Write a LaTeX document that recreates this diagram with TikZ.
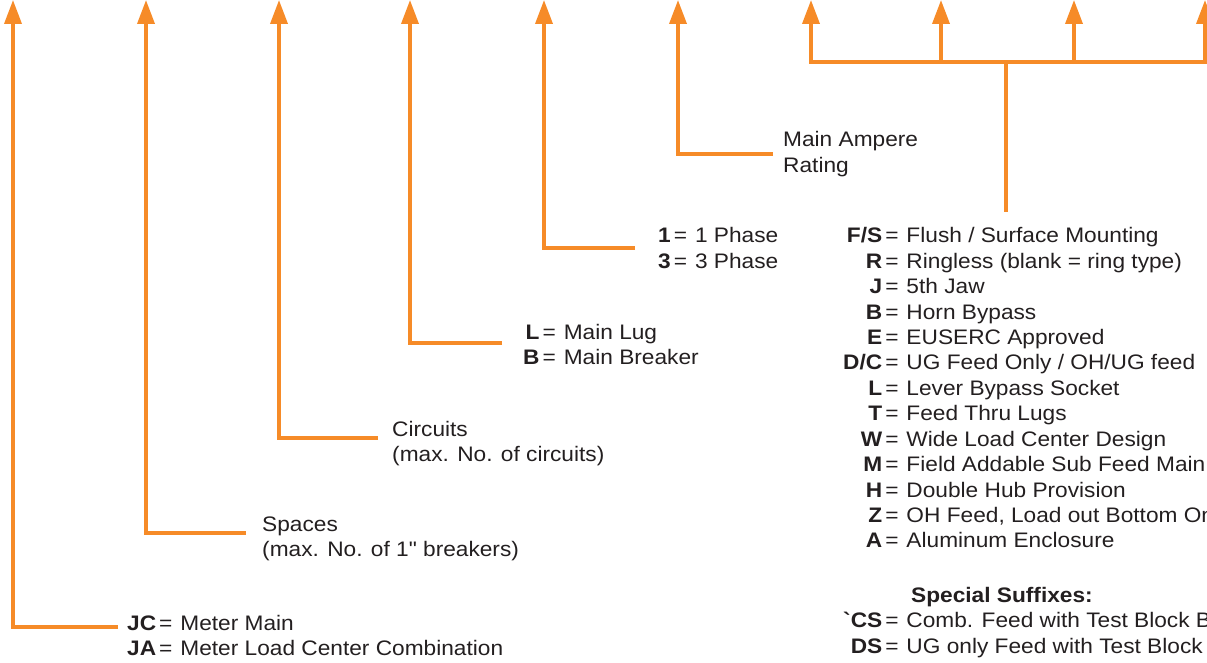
\documentclass[tikz,border=0pt]{standalone}
\usepackage{fontspec}
\setmainfont{Liberation Sans}[FakeStretch=1.08]
\newfontfamily\plainfont{Liberation Sans}[FakeStretch=1.08]
\usetikzlibrary{arrows.meta}
\definecolor{org}{HTML}{F68B28}
\definecolor{ink}{HTML}{231F20}
\newcommand{\eqsep}{\hspace{3pt}=\hspace{8pt}}
\begin{document}
\begin{tikzpicture}[x=1pt,y=-1pt,
  lead/.style={draw=org,line width=3.6pt,line join=miter},
  arr/.style={lead,-{Triangle[length=24pt,width=17pt]}},
  lbl/.style={inner sep=0pt,anchor=base west,text=ink,font=\fontsize{21}{25.4}\selectfont}]
\useasboundingbox (0,0) rectangle (1207,663);
\clip (0,0) rectangle (1207,663);
% arrow tips
\foreach \i/\x in {1/13,2/146,3/279,4/410,5/544,6/678,7/811,8/941,9/1074,10/1205}
  \coordinate (t\i) at (\x,0);
% leader free ends
\coordinate (e1) at (118,627);
\coordinate (e2) at (246,533);
\coordinate (e3) at (378,438);
\coordinate (e4) at (502,343);
\coordinate (e5) at (635,248);
\coordinate (e6) at (773,154);
\foreach \i in {1,...,6} \draw[arr] (e\i) -| (t\i);
% bracket
\coordinate (b1) at (811,62);
\coordinate (b2) at (941,62);
\coordinate (b3) at (1074,62);
\coordinate (b4) at (1205,62);
\coordinate (bs) at (1006,62);
\coordinate (stem) at (1006,212);
\draw[lead,line cap=rect] (b1) -- (b4);
\draw[lead] (stem) -- (bs);
\draw[arr] (b1) -- (t7);
\draw[arr] (b2) -- (t8);
\draw[arr] (b3) -- (t9);
\draw[arr] (b4) -- (t10);
% labels
\node[lbl] (l1) at (127,630) {\begin{tabular}[t]{@{}r@{\eqsep}l@{}}\textbf{JC} & Meter Main\\ \textbf{JA} & Meter Load Center Combination\end{tabular}};
\node[lbl] (l2) at (262,531) {\begin{tabular}[t]{@{}l@{}}Spaces\\ (max. No. of 1{\plainfont"} breakers)\end{tabular}};
\node[lbl] (l3) at (392,436) {\begin{tabular}[t]{@{}l@{}}Circuits\\ (max. No. of circuits)\end{tabular}};
\node[lbl] (l4) at (523,339) {\begin{tabular}[t]{@{}r@{\eqsep}l@{}}\textbf{L} & Main Lug\\ \textbf{B} & Main Breaker\end{tabular}};
\node[lbl] (l5) at (658,243) {\begin{tabular}[t]{@{}r@{\eqsep}l@{}}\textbf{1} & 1 Phase\\ \textbf{3} & 3 Phase\end{tabular}};
\node[lbl] (l6) at (783,147) {\begin{tabular}[t]{@{}l@{}}Main Ampere\\ Rating\end{tabular}};
\node[lbl] (l7) at (843,243) {\begin{tabular}[t]{@{}r@{\eqsep}l@{}}
\textbf{F/S} & Flush / Surface Mounting\\
\textbf{R} & Ringless (blank = ring type)\\
\textbf{J} & 5th Jaw\\
\textbf{B} & Horn Bypass\\
\textbf{E} & EUSERC Approved\\
\textbf{D/C} & UG Feed Only / OH/UG feed\\
\textbf{L} & Lever Bypass Socket\\
\textbf{T} & Feed Thru Lugs\\
\textbf{W} & Wide Load Center Design\\
\textbf{M} & Field Addable Sub Feed Main\\
\textbf{H} & Double Hub Provision\\
\textbf{Z} & OH Feed, Load out Bottom Only\\
\textbf{A} & Aluminum Enclosure\\[4pt]
\multicolumn{2}{@{}l@{}}{}\\
\multicolumn{2}{@{}l@{}}{\hspace{68pt}\textbf{Special Suffixes:}}\\
\textbf{{\plainfont`}CS} & Comb. Feed with Test Block Bypass\\
\textbf{DS} & UG only Feed with Test Block
\end{tabular}};
\end{tikzpicture}
\end{document}
